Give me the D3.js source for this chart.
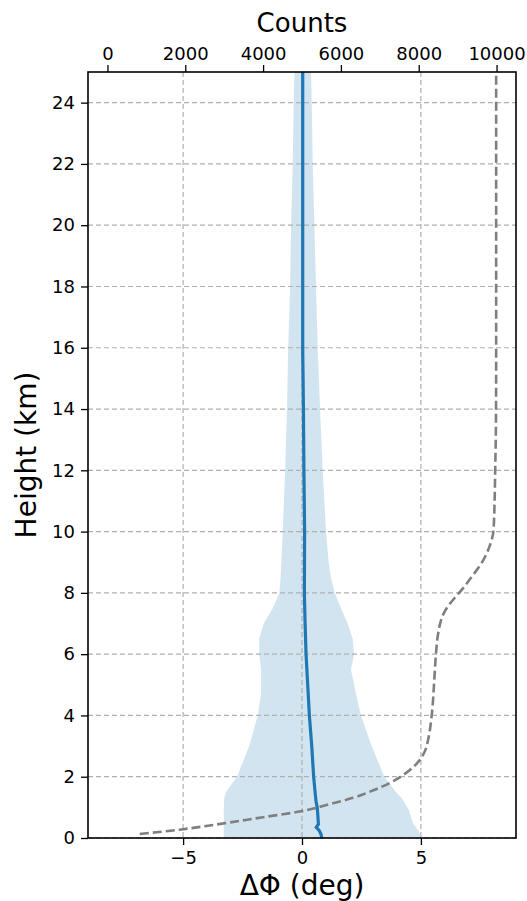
<!DOCTYPE html>
<html>
<head>
<meta charset="utf-8">
<script src="https://cdn.jsdelivr.net/npm/d3@7"></script>
<style>
    body { margin: 0; background: #fff; }
    text { font-family: "DejaVu Sans", sans-serif; fill: #000; }
</style>
</head>
<body>
<div id="chart"></div>
<script>
// mean phase difference profile
const meanHeight = [0, 0.12, 0.25, 0.35, 0.45, 0.8, 1.0, 1.2, 1.5, 2, 3, 4, 5, 6, 7, 8, 10, 12, 14, 16, 25];
const meanPhase = [0.83, 0.80, 0.72, 0.60, 0.69, 0.66, 0.64, 0.59, 0.55, 0.49, 0.41, 0.31, 0.24, 0.17, 0.13, 0.10, 0.11, 0.08, 0.06, 0.03, 0.03];

// spread band (low / high)
const bandHeight = [0, 0.2, 0.5, 0.9, 1.3, 1.5, 2, 3, 4, 4.7, 5.5, 6, 6.5, 7, 7.5, 8, 8.5, 9, 10, 12, 14, 16, 18, 20, 22, 24, 25];
const bandLow = [-3.29, -3.29, -3.29, -3.29, -3.27, -3.20, -2.73, -2.22, -1.86, -1.72, -1.72, -1.80, -1.80, -1.61, -1.23, -0.95, -0.90, -0.87, -0.81, -0.71, -0.63, -0.58, -0.50, -0.46, -0.39, -0.35, -0.32];
const bandHigh = [5.0, 4.92, 4.66, 4.50, 4.20, 3.95, 3.46, 2.93, 2.48, 2.27, 2.06, 2.19, 2.13, 1.92, 1.64, 1.38, 1.22, 1.12, 1.01, 0.87, 0.76, 0.66, 0.59, 0.52, 0.45, 0.41, 0.38];

// number of samples per height
const countHeight = [0.13, 0.28, 0.47, 0.68, 0.87, 1.1, 1.31, 1.55, 1.8, 2.1, 2.55, 2.9, 3.2, 4.08, 5.06, 6.04, 6.6, 7.02, 7.3, 7.54, 7.8, 8.03, 8.52, 9.07, 9.5, 10.02, 11, 12, 13.6, 16, 20, 25];
const countValues = [830, 1900, 2950, 4000, 4970, 5700, 6310, 6820, 7260, 7650, 8030, 8180, 8240, 8340, 8395, 8445, 8490, 8555, 8630, 8740, 8900, 9060, 9360, 9660, 9815, 9920, 9950, 9965, 9985, 9990, 9990, 9990];

const phaseTicks = [-5, 0, 5];
const countTicks = [0, 2000, 4000, 6000, 8000, 10000];
const heightTicks = [0, 2, 4, 6, 8, 10, 12, 14, 16, 18, 20, 22, 24];

const W = 527, H = 901;
const margin = {left: 88, top: 72, right: 11, bottom: 63};
const plot_w = W - margin.left - margin.right;
const plot_h = H - margin.top - margin.bottom;

function drawChart() {
    var svg = d3.select("#chart").append("svg")
        .attr("width", W)
        .attr("height", H);
    var g = svg.append("g")
        .attr("transform", "translate(" + margin.left + "," + margin.top + ")");

    var x = d3.scaleLinear().domain([-9, 9]).range([0, plot_w]);
    var xc = d3.scaleLinear().domain([-500, 10500]).range([0, plot_w]);
    var y = d3.scaleLinear().domain([0, 25]).range([plot_h, 0]);

    var band = bandHeight.map((h, i) => ({h: h, lo: bandLow[i], hi: bandHigh[i]}));
    var mean = meanHeight.map((h, i) => ({h: h, v: meanPhase[i]}));
    var counts = countHeight.map((h, i) => ({h: h, v: countValues[i]}));

    //shaded spread
    g.append("path")
        .datum(band)
        .attr("d", d3.area()
            .y(d => y(d.h))
            .x0(d => x(d.lo))
            .x1(d => x(d.hi)))
        .attr("fill", "#1f77b4")
        .attr("fill-opacity", 0.2);

    //grid
    g.append("g").selectAll("line")
        .data(heightTicks)
        .enter().append("line")
        .attr("x1", 0).attr("x2", plot_w)
        .attr("y1", d => y(d)).attr("y2", d => y(d))
        .attr("stroke", "#b0b0b0")
        .attr("stroke-width", 1.2)
        .attr("stroke-dasharray", "5,3");
    g.append("g").selectAll("line")
        .data(phaseTicks)
        .enter().append("line")
        .attr("y1", 0).attr("y2", plot_h)
        .attr("x1", d => x(d)).attr("x2", d => x(d))
        .attr("stroke", "#b0b0b0")
        .attr("stroke-width", 1.2)
        .attr("stroke-dasharray", "5,3");

    //mean line
    g.append("path")
        .datum(mean)
        .attr("d", d3.line().x(d => x(d.v)).y(d => y(d.h)))
        .attr("fill", "none")
        .attr("stroke", "#1f77b4")
        .attr("stroke-width", 3.2);

    //counts (twin axis)
    g.append("path")
        .datum(counts)
        .attr("d", d3.line().x(d => xc(d.v)).y(d => y(d.h)).curve(d3.curveMonotoneY))
        .attr("fill", "none")
        .attr("stroke", "#7f7f7f")
        .attr("stroke-width", 2.6)
        .attr("stroke-dasharray", "9,4");

    //axes
    var xAxis = g.append("g")
        .attr("transform", "translate(0," + plot_h + ")")
        .call(d3.axisBottom(x).tickValues(phaseTicks).tickSize(7).tickPadding(6)
            .tickFormat(d => d < 0 ? "\u2212" + Math.abs(d) : d));
    var topAxis = g.append("g")
        .call(d3.axisTop(xc).tickValues(countTicks).tickSize(7).tickPadding(5)
            .tickFormat(d3.format("d")));
    var yAxis = g.append("g")
        .call(d3.axisLeft(y).tickValues(heightTicks).tickSize(7).tickPadding(6));
    [xAxis, topAxis, yAxis].forEach(a => {
        a.select(".domain").remove();
        a.selectAll(".tick line").attr("stroke", "#000").attr("stroke-width", 1.3);
        a.selectAll("text").style("font-size", "18px").attr("fill", "#000");
    });

    //frame
    g.append("rect")
        .attr("width", plot_w)
        .attr("height", plot_h)
        .attr("fill", "none")
        .attr("stroke", "#000")
        .attr("stroke-width", 1.6);

    //labels
    svg.append("text")
        .attr("x", margin.left + plot_w/2)
        .attr("y", 32)
        .attr("text-anchor", "middle")
        .style("font-size", "26px")
        .text("Counts");
    svg.append("text")
        .attr("x", margin.left + plot_w/2)
        .attr("y", 895)
        .attr("text-anchor", "middle")
        .style("font-size", "28px")
        .text("\u0394\u03a6 (deg)");
    svg.append("text")
        .attr("transform", "translate(36," + (margin.top + plot_h/2) + ") rotate(-90)")
        .attr("text-anchor", "middle")
        .style("font-size", "28px")
        .text("Height (km)");
}

drawChart();
</script>
</body>
</html>
